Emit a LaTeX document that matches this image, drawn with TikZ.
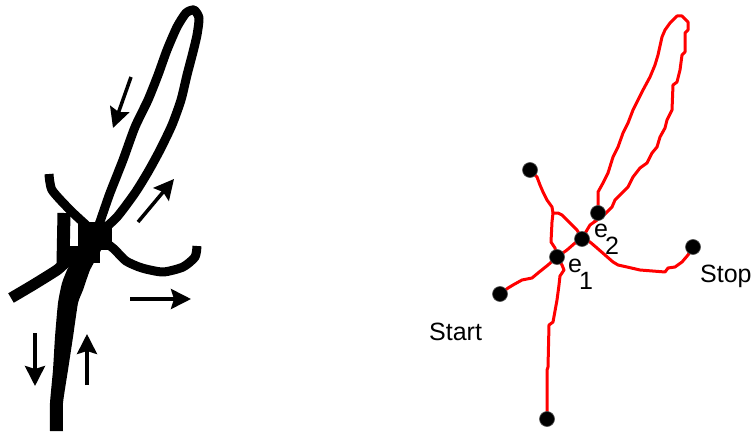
\documentclass[tikz,border=0pt]{standalone}
\usepackage{fontspec}
\setmainfont{Liberation Sans}
\usetikzlibrary{arrows.meta}
\begin{document}
\begin{tikzpicture}[x=1pt,y=-1pt,
  ink/.style={line width=#1, line cap=butt, line join=round, draw=black},
  bigarrow/.style={line width=3.5pt, -{Stealth[length=20pt,width=20pt,inset=3pt]}},
  redline/.style={draw={rgb,255:red,255;green,0;blue,0}, line width=3pt, line join=round, line cap=round},
  dot/.style={circle, fill=black, draw=black!70, line width=0.6pt, minimum size=15pt, inner sep=0pt},
  lbl/.style={font=\fontsize{25}{28}\selectfont, inner sep=0pt, anchor=base west}
]
\useasboundingbox (0,0) rectangle (752,433);

% ---------------- left: black sketch ----------------
% loop stroke
\draw[ink=9pt] plot[smooth, tension=0.4] coordinates {(90,245) (97,230) (103,213) (110,193) (123,160) (135,127) (148,100) (158,75) (167,50) (177,27) (186,13) (194,10) (199,18) (197,35) (193,52) (187,75) (181,100) (172,125) (160,150) (148,172) (135,193) (117,217) (100,233) (88,250)};
% thick descender
\fill plot[smooth, tension=0.3] coordinates {(50,431) (50,403) (53,370) (55,337) (58,303) (62,283) (68,268) (78,253) (88,238) (98,226)}
  -- plot[smooth, tension=0.3] coordinates {(112,232) (100,252) (90,270) (83,290) (78,303) (73,337) (68,370) (63,403) (63,431)} -- cycle;
% crossing blob
\fill (78,222) rectangle (112,250);
% top-left stroke curving to the right
\draw[ink=9pt] plot[smooth, tension=0.4] coordinates {(49,174) (52,190) (70,210) (85,224) (100,238) (114,249) (126,261) (142,268) (163,272) (183,267) (195,257) (197,246)};
% small vertical stroke
\draw[ink=13pt] (64,213) -- (63,264);
% horizontal bar between the two small holes
\draw[ink=17pt] (57,254) -- (100,254);
% lower-left stroke
\draw[ink=11pt] plot[smooth, tension=0.3] coordinates {(11,298) (33,285) (57,270) (68,260)};

% arrows
\coordinate (a1t) at (131,77);  \coordinate (a1h) at (113,128);
\coordinate (a2t) at (138,222); \coordinate (a2h) at (174,179);
\coordinate (a3t) at (130,299); \coordinate (a3h) at (191,299);
\coordinate (a4t) at (35,333);  \coordinate (a4h) at (35,386);
\coordinate (a5t) at (87,385);  \coordinate (a5h) at (87,334);
\draw[bigarrow] (a1t) -- (a1h);
\draw[bigarrow] (a2t) -- (a2h);
\draw[bigarrow] (a3t) -- (a3h);
\draw[bigarrow] (a4t) -- (a4h);
\draw[bigarrow] (a5t) -- (a5h);

% ---------------- right: red graph ----------------
\coordinate (cS)  at (500,294);
\coordinate (cE1) at (557,257);
\coordinate (cM)  at (582,239);
\coordinate (cE2) at (598,213);
\coordinate (cTL) at (530,170);
\coordinate (cST) at (693,247);
\coordinate (cB)  at (547,419);
\coordinate (j)   at (553,213);

% Start -> e1 -> middle -> e2
\draw[redline] (cS) -- (508,288) -- (513,285) -- (522,280) -- (532,278) -- (538,273) -- (548,265) -- (cE1)
  -- (567,250) -- (575,243) -- (cM) -- (587,230) -- (590,225) -- (597,220) -- (cE2);
% long loop
\draw[redline] (cE2) -- (598,192) -- (603,183) -- (608,173) -- (613,157) -- (618,147) -- (623,133) -- (628,123)
  -- (633,110) -- (638,100) -- (643,90) -- (650,77) -- (655,65) -- (658,55) -- (662,37) -- (665,30) -- (670,23)
  -- (677,16) -- (682,16) -- (688,22) -- (688,30) -- (685,33) -- (685,52) -- (682,55) -- (680,70) -- (677,82)
  -- (673,85) -- (672,110) -- (667,120) -- (665,128) -- (660,137) -- (657,147) -- (652,153) -- (647,163)
  -- (640,168) -- (633,177) -- (628,187) -- (622,193) -- (615,200) -- (612,207) -- (605,214) -- (594,222);
% top-left dot -> middle -> Stop
\draw[redline] (cTL) -- (537,177) -- (540,185) -- (543,192) -- (547,200) -- (552,207) -- (j) -- (558,213)
  -- (562,215) -- (570,223) -- (577,230) -- (cM) -- (590,242) -- (597,248) -- (605,255) -- (613,262)
  -- (618,265) -- (627,267) -- (640,270) -- (665,272) -- (668,268) -- (675,267) -- (682,262) -- (688,255) -- (cST);
% junction -> e1 -> bottom
\draw[redline] (j) -- (552,222) -- (551,242) -- (555,248) -- (cE1) -- (562,265) -- (564,270) -- (560,276)
  -- (559,285) -- (557,300) -- (553,322) -- (549,325) -- (548,367) -- (547,370) -- (cB);

% dots
\node[dot] (start) at (cS) {};
\node[dot] (e1) at (cE1) {};
\node[dot] (mid) at (cM) {};
\node[dot] (e2) at (cE2) {};
\node[dot] (tl) at (cTL) {};
\node[dot] (stop) at (cST) {};
\node[dot] (bottom) at (cB) {};

% labels
\node[lbl] (startlbl) at (429,340) {Start};
\node[lbl] (stoplbl) at (700,282) {Stop};
\node[lbl] (e1lbl) at (568,272) {e\kern-3pt\raisebox{-17pt}{1}};
\node[lbl] (e2lbl) at (594,237) {e\kern-3pt\raisebox{-17pt}{2}};
\end{tikzpicture}
\end{document}
